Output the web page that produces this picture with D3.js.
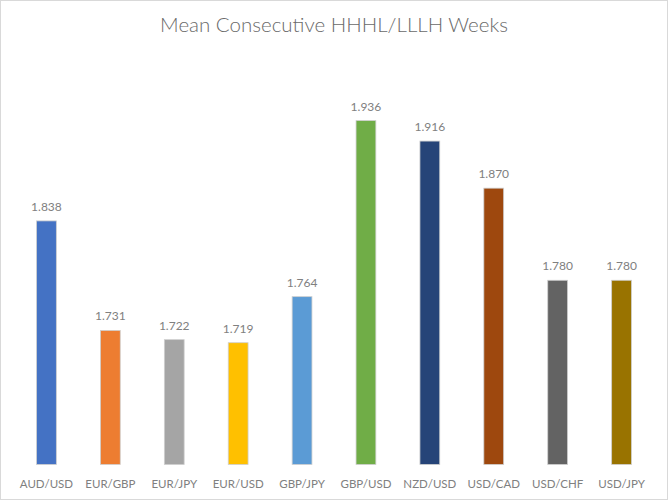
<!DOCTYPE html>
<html><head><meta charset="utf-8">
<script src="https://cdn.jsdelivr.net/npm/d3@7"></script>
<style>body{margin:0;background:#fff}svg{display:block}</style>
</head><body>
<svg id="c" width="668" height="500"></svg>
<script>
const categories = ["AUD/USD","EUR/GBP","EUR/JPY","EUR/USD","GBP/JPY","GBP/USD","NZD/USD","USD/CAD","USD/CHF","USD/JPY"];
const values = [1.838,1.731,1.722,1.719,1.764,1.936,1.916,1.870,1.780,1.780];
const colors = ["#4472C4","#ED7D31","#A5A5A5","#FFC000","#5B9BD5","#70AD47","#264478","#9E480E","#636363","#997300"];
const title = "Mean Consecutive HHHL/LLLH Weeks";
const yDomain = [1.6, 2.0];

const svg = d3.select("#c");
const W = 668, H = 500;
svg.append("rect").attr("x",0.5).attr("y",0.5).attr("width",W-1).attr("height",H-1)
  .attr("fill","#fff").attr("stroke","#d9d9d9").attr("stroke-width",1);

const x = d3.scaleBand().domain(categories).range([14.5, 653.5]).paddingInner(0.69).paddingOuter(0.345);
const y = d3.scaleLinear().domain(yDomain).range([464.5, 55.1]);

svg.append("text").attr("x", W/2).attr("y", 32).attr("text-anchor","middle")
  .attr("font-family","Lato, 'Open Sans', sans-serif").attr("font-weight",300).attr("font-size",20.5).attr("fill","#6a6a6a").text(title);

const g = svg.append("g");
g.selectAll("rect.bar").data(values).join("rect").attr("class","bar")
  .attr("x",(d,i)=>x(categories[i])).attr("width",x.bandwidth())
  .attr("y",d=>y(d)).attr("height",d=>y(yDomain[0])-y(d))
  .attr("fill",(d,i)=>colors[i]).attr("stroke","#cfcfcf").attr("stroke-width",0.8);

g.selectAll("text.val").data(values).join("text").attr("class","val")
  .attr("x",(d,i)=>x(categories[i])+x.bandwidth()/2).attr("y",d=>y(d)-10)
  .attr("text-anchor","middle").attr("font-family","Lato, sans-serif").attr("font-size",12)
  .attr("fill","#808080").text(d=>d3.format(".3f")(d));

const xAxis = d3.axisBottom(x).tickSize(0).tickPadding(0);
const ax = svg.append("g").attr("transform",`translate(0,${y(yDomain[0])})`).call(xAxis);
ax.select(".domain").remove();
ax.selectAll("text").attr("dy",0).attr("y",23.5).attr("font-family","Lato, sans-serif").attr("font-size",11.5).attr("fill","#808080");
</script>
</body></html>
